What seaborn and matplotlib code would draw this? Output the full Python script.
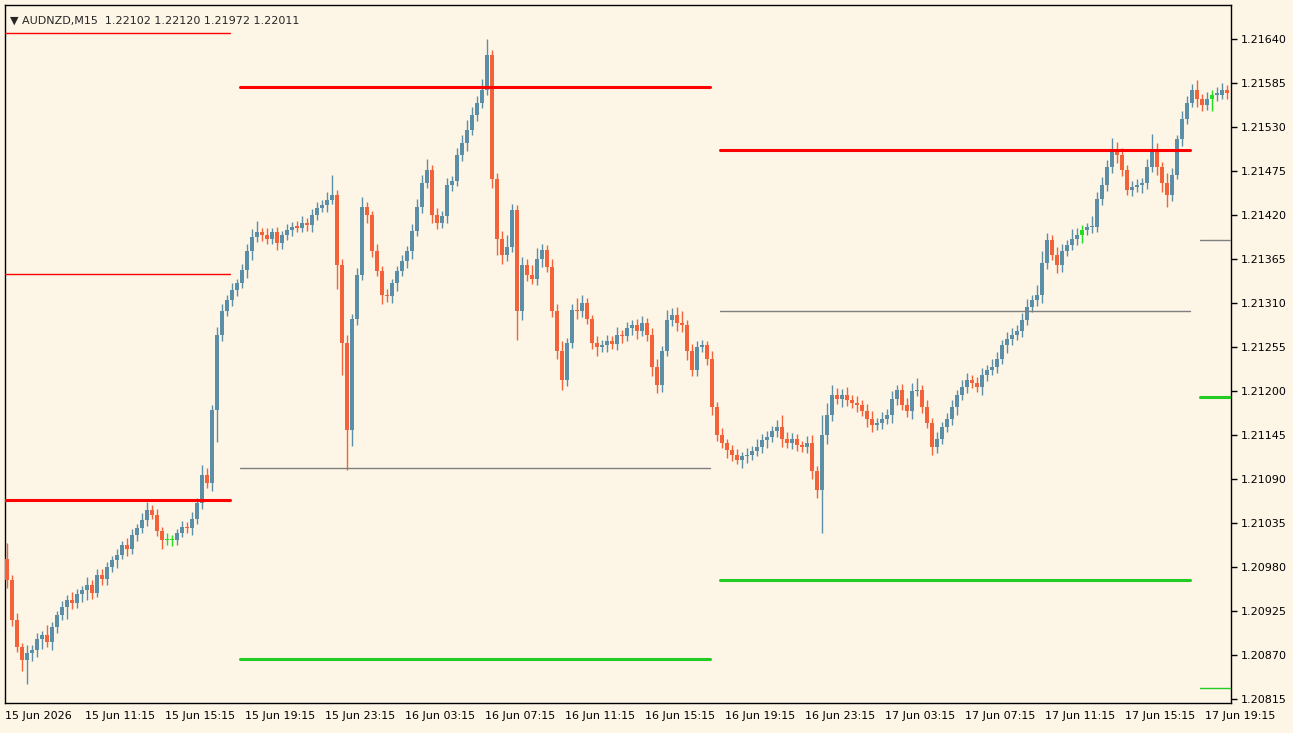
import numpy as np
import pandas as pd
import seaborn as sns
import matplotlib
matplotlib.use("Agg")
import matplotlib.pyplot as plt

# closes as offsets: price = 1.20000 + v/1e5
closes = [964,914,880,864,872,876,890,895,886,905,920,930,939,935,946,951,958,948,970,965,
980,989,995,1007,1002,1020,1028,1039,1051,1045,1025,1014,1014,1014,1022,1030,1028,1040,1060,1095,
1085,1176,1270,1300,1314,1326,1335,1351,1375,1392,1398,1395,1390,1398,1385,1395,1401,1405,1404,1410,
1407,1420,1428,1432,1439,1445,1357,1260,1151,1290,1345,1430,1420,1375,1350,1320,1318,1335,1350,1362,
1375,1400,1430,1460,1476,1420,1410,1418,1457,1462,1495,1510,1526,1545,1560,1576,1620,1464,1390,1370,
1380,1426,1300,1357,1345,1340,1365,1376,1355,1300,1250,1214,1260,1301,1300,1310,1290,1260,1255,1257,
1262,1258,1270,1268,1278,1282,1275,1285,1270,1230,1207,1250,1289,1295,1285,1282,1250,1226,1255,1257,
1240,1180,1145,1135,1126,1120,1114,1118,1120,1125,1130,1139,1142,1150,1155,1140,1135,1140,1132,1130,
1135,1100,1076,1145,1170,1195,1190,1195,1189,1185,1182,1175,1165,1157,1160,1165,1170,1190,1201,1182,
1175,1200,1201,1180,1160,1130,1140,1155,1165,1180,1195,1205,1214,1210,1205,1220,1226,1230,1240,1257,
1265,1270,1275,1289,1305,1314,1320,1360,1389,1370,1357,1375,1382,1390,1395,1401,1405,1405,1440,1457,
1480,1501,1495,1476,1451,1455,1457,1460,1480,1501,1480,1460,1445,1470,1514,1540,1560,1576,1565,1557,
1565,1570,1570,1576,1572]
first_open = 990
upper_wick = [20,6,8,5,10,6,8,5,12,6,5,8,6,10,7,5,9,6,8,7,
6,5,8,6,9,7,6,8,10,6,7,5,8,6,5,7,6,8,6,12,
8,6,10,8,6,9,5,7,8,10,14,6,8,6,7,5,8,6,7,8,
6,7,8,6,9,25,6,8,10,6,8,12,6,5,8,6,7,5,6,8,
6,8,10,9,14,6,8,7,9,6,8,10,12,9,8,14,19,6,8,10,
15,8,6,10,8,12,14,8,6,10,8,12,6,8,15,10,6,5,8,6,
8,6,10,6,8,7,8,9,6,8,10,6,12,8,10,15,6,8,7,6,
5,10,6,8,5,6,7,5,8,6,10,7,8,6,9,15,8,7,6,5,
8,10,6,25,15,12,8,7,10,6,8,6,9,10,6,8,7,10,6,8,
9,10,15,6,8,6,8,6,7,8,6,9,8,6,7,8,6,10,8,6,
9,8,7,8,10,6,12,15,8,6,10,8,7,12,8,6,5,14,8,10,
8,15,10,8,6,7,8,6,10,20,8,6,12,8,6,10,8,7,12,6,
8,6,10,8,6]
lower_wick = [10,8,6,14,30,10,8,12,6,10,8,6,15,8,6,10,12,8,6,7,
8,6,10,5,8,6,7,6,8,5,6,12,6,8,7,5,6,8,6,8,
6,10,40,8,6,8,7,6,10,12,6,8,7,6,9,8,6,7,5,6,
7,8,6,5,8,6,30,40,50,20,8,6,10,8,6,12,7,8,10,6,
8,10,6,8,7,10,8,6,8,7,6,8,10,6,8,7,6,10,20,12,
8,6,36,12,8,6,8,10,6,8,10,13,8,6,10,8,6,8,12,6,
8,6,7,8,6,8,10,6,8,12,10,8,6,8,10,8,12,8,7,6,
8,10,8,6,10,8,6,10,8,6,7,8,10,6,8,10,6,8,7,6,
8,10,10,54,12,8,6,10,8,6,8,7,10,8,6,8,7,10,8,6,
8,10,6,8,7,10,8,6,7,8,10,6,8,6,7,10,8,6,8,6,
10,8,6,8,7,6,8,10,8,6,10,8,7,6,8,10,6,8,6,8,
7,8,10,8,6,8,6,10,8,7,10,12,15,8,6,8,7,6,10,8,
6,15,8,6,7]
doji_idx = [32, 33, 215, 241]

level_values = [1647, 1346, 1064, 1579, 1104, 865, 1501, 1300, 964, 1389, 1192, 829]
level_start = [-0.4, -0.4, -0.4, 46.6, 46.6, 46.6, 142.6, 142.6, 142.6, 238.6, 238.6, 238.6]
level_end = [44.6, 44.6, 44.6, 140.6, 140.6, 140.6, 236.6, 236.6, 236.6, 244.6, 244.6, 244.6]
level_colors = ["#ff0000", "#ff0000", "#ff0000", "#ff0000", "#808080", "#22cc22",
                "#ff0000", "#808080", "#22cc22", "#808080", "#22cc22", "#22cc22"]
level_widths = [1.0, 1.0, 2.2, 2.2, 1.0, 2.2, 2.2, 1.0, 2.2, 1.0, 2.2, 1.0]

xtick_labels = ["15 Jun 2026", "15 Jun 11:15", "15 Jun 15:15", "15 Jun 19:15", "15 Jun 23:15",
                "16 Jun 03:15", "16 Jun 07:15", "16 Jun 11:15", "16 Jun 15:15", "16 Jun 19:15",
                "16 Jun 23:15", "17 Jun 03:15", "17 Jun 07:15", "17 Jun 11:15", "17 Jun 15:15",
                "17 Jun 19:15"]
ytick_values = [1.20815, 1.20870, 1.20925, 1.20980, 1.21035, 1.21090, 1.21145, 1.21200,
                1.21255, 1.21310, 1.21365, 1.21420, 1.21475, 1.21530, 1.21585, 1.21640]

sns.set_style("white")
plt.rcParams['font.family'] = ['DejaVu Sans']
bg = "#fdf5e6"
fig = plt.figure(figsize=(12.93, 7.33), dpi=100, facecolor=bg)
ax = fig.add_axes([5/1293, 30/733, 1226/1293, 698/733], facecolor=bg)

c = np.array(closes) / 1e5 + 1.2
o = np.concatenate([[first_open / 1e5 + 1.2], c[:-1]])
n = len(c)
x = np.arange(n)
hi = np.maximum(o, c) + np.array(upper_wick[:n]) / 1e5
lo = np.minimum(o, c) - np.array(lower_wick[:n]) / 1e5
up_col, dn_col, doji_col = "#5b8fa8", "#f4623a", "#22dd22"
cols = [doji_col if i in doji_idx else (up_col if c[i] >= o[i] else dn_col) for i in range(n)]
ax.vlines(x, lo, hi, colors=cols, linewidth=1.0, zorder=2)
body_h = np.abs(c - o)
body_h = np.where(body_h < 0.000015, 0.000015, body_h)
ax.bar(x, body_h, bottom=np.minimum(o, c), width=0.7, color=cols, linewidth=0, zorder=3)

for v, s, e, col, lw in zip(level_values, level_start, level_end, level_colors, level_widths):
    df = pd.DataFrame({"x": [s, e], "y": [v / 1e5 + 1.2] * 2})
    sns.lineplot(data=df, x="x", y="y", ax=ax, color=col, linewidth=lw, zorder=4)

ax.set_xlim(-0.4, 244.8)
ax.set_ylim(1.20810, 1.21682)
ax.yaxis.tick_right()
ax.set_yticks(ytick_values)
ax.set_yticklabels([f"{v:.5f}" for v in ytick_values], fontsize=8)
ax.set_xticks(np.arange(0, 16 * 16, 16) - 0.4)
ax.set_xticklabels(xtick_labels, fontsize=8, ha="left")
ax.tick_params(axis="both", direction="out", length=4, width=1, colors="black", pad=3)
ax.tick_params(axis="x", pad=2)
ax.set_xlabel("")
ax.set_ylabel("")
for sp in ax.spines.values():
    sp.set_color("black")
    sp.set_linewidth(1)
ax.text(0.004, 0.985, "▼ AUDNZD,M15  1.22102 1.22120 1.21972 1.22011", transform=ax.transAxes,
        fontsize=8, va="top", ha="left")
fig.savefig("out.png", dpi=100, facecolor=bg)
